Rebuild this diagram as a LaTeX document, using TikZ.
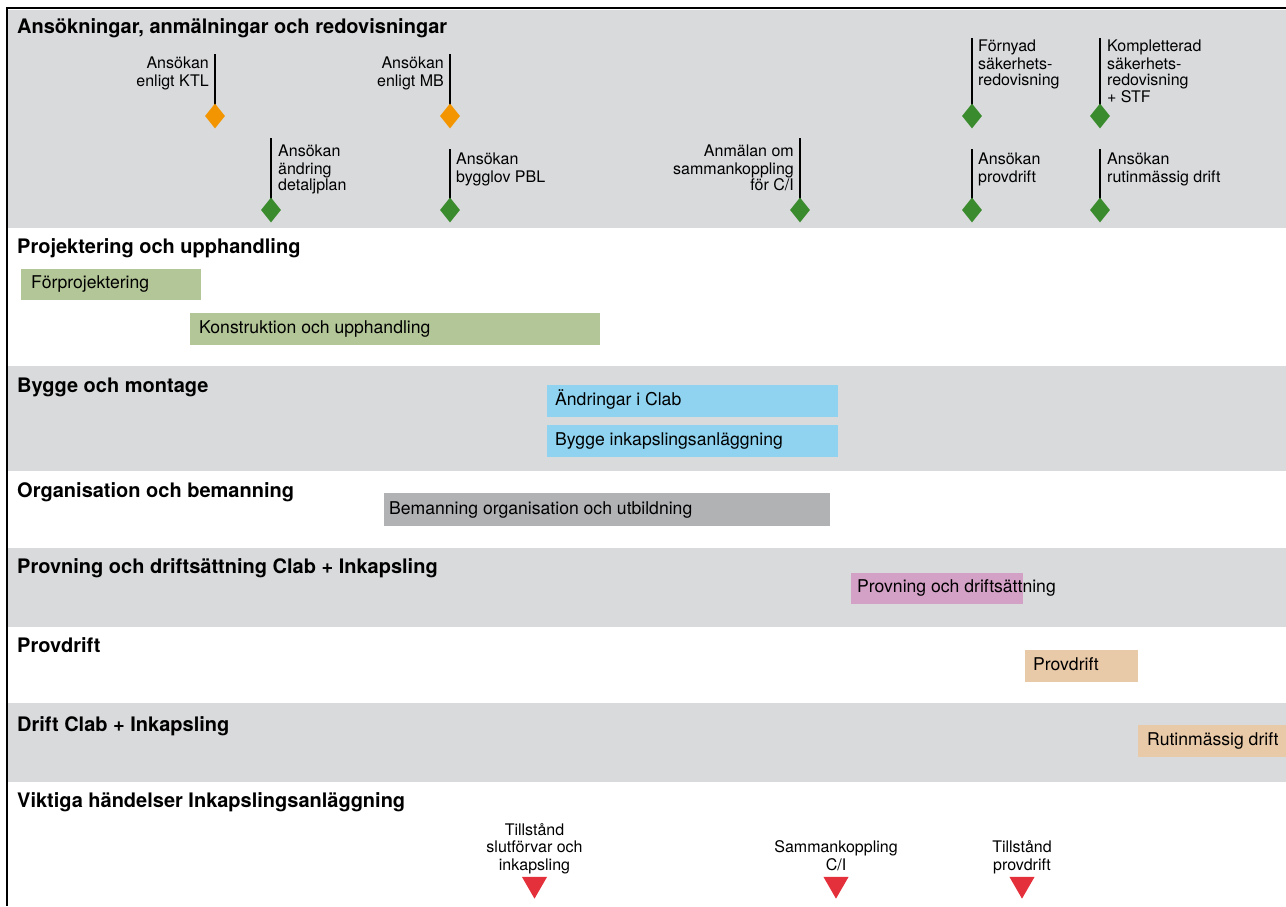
\documentclass[tikz,border=0pt]{standalone}
\usepackage{fontspec}
\setmainfont{TeX Gyre Heros}
\usetikzlibrary{shapes.geometric}

\definecolor{bandgrey}{RGB}{217,218,220}
\definecolor{planGreen}{RGB}{179,198,151}
\definecolor{buildBlue}{RGB}{143,211,240}
\definecolor{staffGrey}{RGB}{177,178,180}
\definecolor{testPink}{RGB}{211,160,198}
\definecolor{runPeach}{RGB}{232,201,168}
\definecolor{msOrange}{RGB}{242,149,0}
\definecolor{msGreen}{RGB}{58,139,46}
\definecolor{evRed}{RGB}{227,48,58}

\pgfdeclarelayer{bands}
\pgfdeclarelayer{stems}
\pgfsetlayers{bands,stems,main}

\tikzset{
  lanetitle/.style={font=\fontsize{20}{22}\selectfont\bfseries, inner sep=0pt, anchor=base west},
  bar/.style={rectangle, inner sep=0pt, anchor=north west, fill=#1},
  bartext/.style={font=\fontsize{17.6}{20}\selectfont, inner sep=0pt, anchor=base west},
  msmark/.style={diamond, fill=#1, inner sep=0pt, minimum width=20pt, minimum height=25pt},
  stem/.style={line width=2.8pt, black},
  mslabel/.style={font=\fontsize{16}{16.5}\selectfont, inner sep=0pt},
  msleft/.style={mslabel, anchor=north east, align=right},
  msright/.style={mslabel, anchor=north west, align=left},
  event/.style={regular polygon, regular polygon sides=3, shape border rotate=180,
    fill=evRed, inner sep=0pt, minimum size=28.9pt},
  evlabel/.style={font=\fontsize{16}{17.5}\selectfont, inner sep=0pt, anchor=south, align=center},
}

\begin{document}
\begin{tikzpicture}[x=1pt, y=-1pt]
\useasboundingbox (0,0) rectangle (1286,906);

% lane backgrounds
\begin{pgfonlayer}{bands}
  \fill[bandgrey] (8,9.5) rectangle (1286,228);
  \fill[bandgrey] (8,366) rectangle (1286,471);
  \fill[bandgrey] (8,548) rectangle (1286,627);
  \fill[bandgrey] (8,703) rectangle (1286,782);
\end{pgfonlayer}

% frame
\draw[line width=2.6pt] (6,8) -- (1286,8);
\draw[line width=1.8pt] (7,7) -- (7,906);

% lane titles
\node[lanetitle] (t1) at (17,33)  {Ansökningar, anmälningar och redovisningar};
\node[lanetitle] (t2) at (17,253) {Projektering och upphandling};
\node[lanetitle] (t3) at (17,392) {Bygge och montage};
\node[lanetitle] (t4) at (17,497) {Organisation och bemanning};
\node[lanetitle] (t5) at (17,573) {Provning och driftsättning Clab + Inkapsling};
\node[lanetitle] (t6) at (17,652) {Provdrift};
\node[lanetitle] (t7) at (17,731) {Drift Clab + Inkapsling};
\node[lanetitle] (t8) at (17,807) {Viktiga händelser Inkapslingsanläggning};

% milestones: applications and reports
\node[msmark=msOrange] (mKTL)  at (215,116) {};
\node[msmark=msOrange] (mMB)   at (450,116) {};
\node[msmark=msGreen]  (mFSR)  at (972,116) {};
\node[msmark=msGreen]  (mKSR)  at (1100,116) {};
\node[msmark=msGreen]  (mDP)   at (271,210) {};
\node[msmark=msGreen]  (mPBL)  at (450,210) {};
\node[msmark=msGreen]  (mCI)   at (800,210) {};
\node[msmark=msGreen]  (mPD)   at (972,210) {};
\node[msmark=msGreen]  (mRD)   at (1100,210) {};

\coordinate (sKTL) at (215,54);
\coordinate (sMB)  at (450,54);
\coordinate (sFSR) at (972,38);
\coordinate (sKSR) at (1100,38);
\coordinate (sDP)  at (271,138);
\coordinate (sPBL) at (450,149);
\coordinate (sCI)  at (800,138);
\coordinate (sPD)  at (972,149);
\coordinate (sRD)  at (1100,149);

\begin{pgfonlayer}{stems}
  \foreach \m in {KTL,MB,FSR,KSR,DP,PBL,CI,PD,RD}
    \draw[stem] (s\m) -- (m\m.center);
\end{pgfonlayer}

\node[msleft]  (lKTL) at (209,57)  {\strut Ansökan\\enligt KTL};
\node[msleft]  (lMB)  at (444,57)  {\strut Ansökan\\enligt MB};
\node[msright] (lFSR) at (978,40)  {\strut Förnyad\\säkerhets-\\redovisning};
\node[msright] (lKSR) at (1107,40) {\strut Kompletterad\\säkerhets-\\redovisning\\+ STF};
\node[msright] (lDP)  at (278,145) {\strut Ansökan\\ändring\\detaljplan};
\node[msright] (lPBL) at (456,153) {\strut Ansökan\\bygglov PBL};
\node[msleft]  (lCI)  at (794,145) {\strut Anmälan om\\sammankoppling\\för C/I};
\node[msright] (lPD)  at (978,153) {\strut Ansökan\\provdrift};
\node[msright] (lRD)  at (1107,153) {\strut Ansökan\\rutinmässig drift};

% activity bars
\node[bar=planGreen, minimum width=180pt, minimum height=31pt] (b1) at (21,269) {};
\node[bar=planGreen, minimum width=410pt, minimum height=32pt] (b2) at (190,313) {};
\node[bar=buildBlue, minimum width=291pt, minimum height=32pt] (b3) at (547,385) {};
\node[bar=buildBlue, minimum width=291pt, minimum height=32pt] (b4) at (547,425) {};
\node[bar=staffGrey, minimum width=446pt, minimum height=33pt] (b5) at (384,493) {};
\node[bar=testPink,  minimum width=172pt, minimum height=31pt] (b6) at (851,573) {};
\node[bar=runPeach,  minimum width=113pt, minimum height=32pt] (b7) at (1025,650) {};
\node[bar=runPeach,  minimum width=148pt, minimum height=32pt] (b8) at (1138,725) {};

\node[bartext] (x1) at ([xshift=10pt,yshift=11.5pt]b1.south west) {Förprojektering};
\node[bartext] (x2) at ([xshift=9pt,yshift=11.5pt]b2.south west)  {Konstruktion och upphandling};
\node[bartext] (x3) at ([xshift=8pt,yshift=11.5pt]b3.south west)  {Ändringar i Clab};
\node[bartext] (x4) at ([xshift=8pt,yshift=11.5pt]b4.south west)  {Bygge inkapslingsanläggning};
\node[bartext] (x5) at ([xshift=5pt,yshift=12pt]b5.south west)    {Bemanning organisation och utbildning};
\node[bartext] (x6) at ([xshift=6pt,yshift=11.5pt]b6.south west)  {Provning och driftsättning};
\node[bartext] (x7) at ([xshift=8pt,yshift=11.5pt]b7.south west)  {Provdrift};
\node[bartext] (x8) at ([xshift=9pt,yshift=11.5pt]b8.south west)  {Rutinmässig drift};

% key events
\node[event] (e1) at (534.5,884.2) {};
\node[event] (e2) at (836,884.2) {};
\node[event] (e3) at (1022,884.2) {};
\node[evlabel] (el1) at (534.5,875.6) {Tillstånd\\slutförvar och\\inkapsling\strut};
\node[evlabel] (el2) at (836,875.6)   {Sammankoppling\\C/I\strut};
\node[evlabel] (el3) at (1022,875.6)  {Tillstånd\\provdrift\strut};
\end{tikzpicture}
\end{document}
